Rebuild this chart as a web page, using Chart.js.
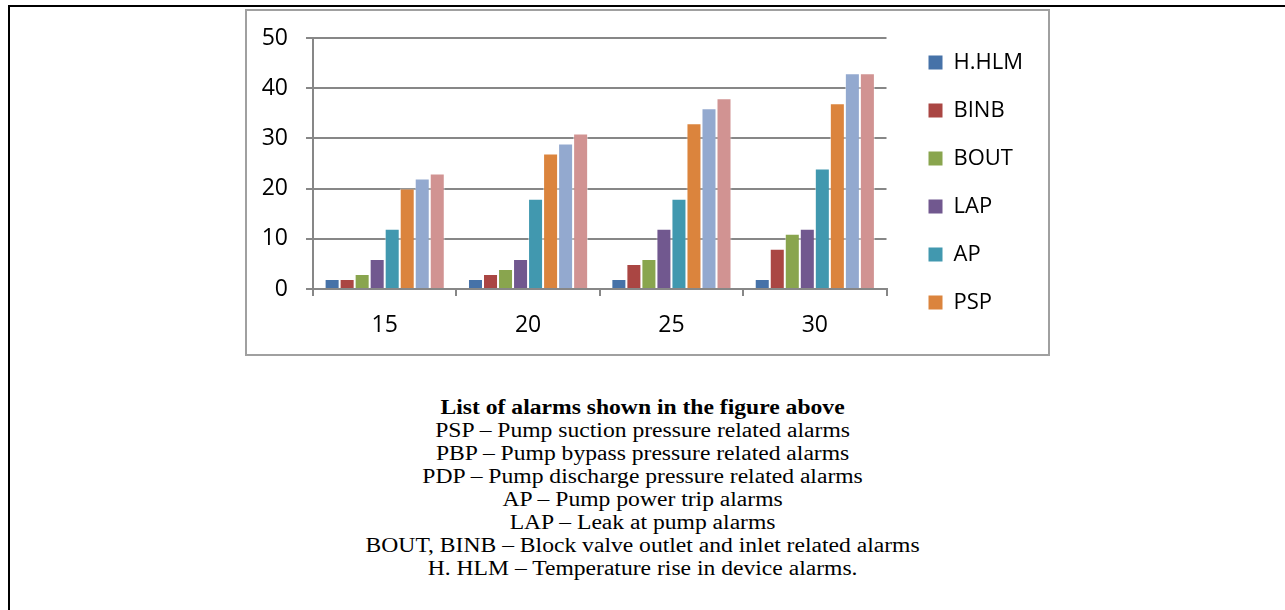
<!DOCTYPE html>
<html>
<head>
<meta charset="utf-8">
<title>Alarms chart</title>
<script src="https://cdn.jsdelivr.net/npm/chart.js@4.4.1/dist/chart.umd.min.js"></script>
<style>
    body { margin: 0; background: #fff; width: 1285px; height: 610px; overflow: hidden; position: relative; }
    #frame { position: absolute; left: 8px; top: 5px; width: 1400px; height: 700px; border-left: 2px solid #000; border-top: 2px solid #000; }
    #chartBox { position: absolute; left: 245px; top: 9px; width: 801px; height: 343px; border: 2px solid #a0a0a0; }
    #notes { position: absolute; left: 0; top: 396px; width: 1285px; text-align: center;
             font-family: "Liberation Serif", "Times New Roman", serif; font-size: 20px; line-height: 23px;
             color: #000; transform: scaleX(1.18); transform-origin: 642px 0; }
    #notes .head { font-weight: bold; }
</style>
</head>
<body>
<div id="frame"></div>
<div id="chartBox"><canvas id="alarmChart"></canvas></div>
<div id="notes">
    <div class="head">List of alarms shown in the figure above</div>
    <div>PSP – Pump suction pressure related alarms</div>
    <div>PBP – Pump bypass pressure related alarms</div>
    <div>PDP – Pump discharge pressure related alarms</div>
    <div>AP – Pump power trip alarms</div>
    <div>LAP – Leak at pump alarms</div>
    <div>BOUT, BINB – Block valve outlet and inlet related alarms</div>
    <div>H. HLM – Temperature rise in device alarms.</div>
</div>
<script>
// chart values
const categories = ["15", "20", "25", "30"];
const seriesNames = ["H.HLM", "BINB", "BOUT", "LAP", "AP", "PSP", "PBP", "PDP"];
const hhlmValues = [2, 2, 2, 2];
const binbValues = [2, 3, 5, 8];
const boutValues = [3, 4, 6, 11];
const lapValues  = [6, 6, 12, 12];
const apValues   = [12, 18, 18, 24];
const pspValues  = [20, 27, 33, 37];
const pbpValues  = [22, 29, 36, 43];
const pdpValues  = [23, 31, 38, 43];
const yTicks = [0, 10, 20, 30, 40, 50];

const seriesColors = ["#4672A8", "#AA4643", "#89A54E", "#71588F", "#4198AF", "#DB843D", "#93A9CF", "#D19392"];
const allValues = [hhlmValues, binbValues, boutValues, lapValues, apValues, pspValues, pbpValues, pdpValues];
const shownInLegend = 6; // legend in the picture is cut after PSP

const gridGray = "#878787";
Chart.defaults.color = "#000";
Chart.defaults.font.family = "'Open Sans', sans-serif";

document.addEventListener("DOMContentLoaded", () => {
    const ctx = document.getElementById("alarmChart").getContext("2d");
    new Chart(ctx, {
        type: "bar",
        data: {
            labels: categories,
            datasets: seriesNames.map((name, i) => ({
                label: name,
                data: allValues[i],
                backgroundColor: seriesColors[i],
                borderColor: "rgba(255,255,255,0.5)",
                borderWidth: 1,
                categoryPercentage: 0.838,
                barPercentage: 1
            }))
        },
        options: {
            responsive: true,
            maintainAspectRatio: false,
            animation: false,
            layout: { padding: { top: 0, bottom: 0, left: 0, right: 15 } },
            scales: {
                x: {
                    grid: { drawOnChartArea: false, tickLength: 7, color: gridGray, lineWidth: 2 },
                    border: { color: gridGray, width: 2 },
                    ticks: { font: { size: 23 }, padding: 16 },
                    afterFit: s => { s.height = 65; }
                },
                y: {
                    min: 0, max: 50,
                    grid: { tickLength: 7, color: gridGray, lineWidth: 2 },
                    border: { color: gridGray, width: 2 },
                    ticks: { font: { size: 23 }, padding: 18 },
                    afterBuildTicks: s => { s.ticks = yTicks.map(v => ({ value: v })); },
                    afterFit: s => {
                        s.width = 66;
                        // the label padding would push the plot down; the top spacer handles it
                        s.paddingTop = 0;
                        s.paddingBottom = 0;
                    }
                },
                // empty axes only used as spacers around the plot
                topGap: {
                    type: "linear", position: "top",
                    grid: { display: false, drawTicks: false }, border: { display: false },
                    ticks: { display: false },
                    afterFit: s => { s.height = 27; }
                },
                rightGap: {
                    type: "linear", position: "right",
                    grid: { display: false, drawTicks: false }, border: { display: false },
                    ticks: { display: false },
                    afterFit: s => { s.width = 16; }
                }
            },
            plugins: {
                tooltip: { enabled: false },
                legend: {
                    position: "right",
                    align: "center",
                    labels: {
                        font: { size: 22 },
                        boxWidth: 14,
                        boxHeight: 14,
                        padding: 26,
                        generateLabels: chart => Chart.defaults.plugins.legend.labels.generateLabels(chart)
                            .filter(item => item.datasetIndex < shownInLegend)
                            .map(item => ({ ...item, lineWidth: 0, strokeStyle: item.fillStyle }))
                    }
                }
            }
        }
    });
});
</script>
</body>
</html>
